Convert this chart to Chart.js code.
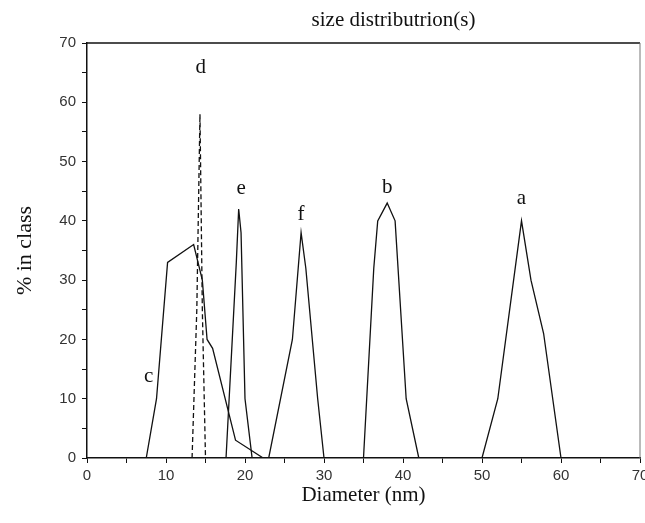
<!DOCTYPE html>
<html>
<head>
<meta charset="utf-8">
<script src="https://cdn.jsdelivr.net/npm/chart.js@4.4.1/dist/chart.umd.min.js"></script>
<style>
  html, body { margin: 0; padding: 0; background: #fff; }
  #wrap { width: 645px; height: 523px; }
</style>
</head>
<body>
<div id="wrap"><canvas id="myChart" width="645" height="523"></canvas></div>
<script>
// peak a
const aDiam = [50, 52, 55, 56.2, 57.8, 60];
const aPct  = [0, 10, 40, 30, 21, 0];
// peak b
const bDiam = [35, 36.3, 36.8, 38, 39, 40.4, 42];
const bPct  = [0, 32, 40, 43, 40, 10, 0];
// peak c
const cDiam = [7.5, 8.8, 10.2, 13.5, 14.6, 15.2, 15.9, 18.8, 22.3];
const cPct  = [0, 10, 33, 36, 30, 20, 18.5, 3, 0];
// peak d (dashed)
const dDiam = [13.3, 13.9, 14.3, 14.6, 15];
const dPct  = [0, 25, 58, 25, 0];
// peak e
const eDiam = [17.6, 18.9, 19.2, 19.5, 20, 20.9];
const ePct  = [0, 33, 42, 38, 10, 0];
// peak f
const fDiam = [23, 26, 27.1, 27.7, 29.2, 30];
const fPct  = [0, 20, 38, 32, 10, 0];

const peakNames  = ['a', 'b', 'c', 'd', 'e', 'f'];
const peakLabelX = [55, 38, 7.8, 14.4, 19.5, 27.1];
const peakLabelY = [43.7, 45.7, 13.8, 65.8, 45.5, 41.1];

const titleText = 'size distributrion(s)';

function toPoints(xs, ys) {
    return xs.map((v, i) => ({ x: v, y: ys[i] }));
}

function lineSet(label, xs, ys, dash) {
    return {
        label: label,
        data: toPoints(xs, ys),
        borderColor: '#111',
        borderWidth: 1.3,
        borderDash: dash || [],
        pointRadius: 0,
        fill: false,
        tension: 0
    };
}

// top/right frame, peak letters and title
const extras = {
    id: 'extras',
    afterDraw(chart) {
        const { ctx, chartArea: ca, scales: { x, y } } = chart;
        ctx.save();
        ctx.strokeStyle = '#111';
        ctx.lineWidth = 1.5;
        ctx.beginPath();
        ctx.moveTo(ca.left, ca.top);
        ctx.lineTo(ca.right, ca.top);
        ctx.stroke();
        ctx.strokeStyle = '#777';
        ctx.lineWidth = 1;
        ctx.beginPath();
        ctx.moveTo(ca.right, ca.top);
        ctx.lineTo(ca.right, ca.bottom);
        ctx.stroke();

        ctx.fillStyle = '#111';
        ctx.textAlign = 'center';
        ctx.textBaseline = 'middle';
        ctx.font = '21px "Liberation Serif"';
        peakNames.forEach((n, i) => {
            ctx.fillText(n, x.getPixelForValue(peakLabelX[i]), y.getPixelForValue(peakLabelY[i]));
        });

        ctx.font = '21px "Liberation Serif"';
        ctx.fillText(titleText, x.getPixelForValue(38.8), 20);
        ctx.restore();
    }
};

const tickFont = { family: 'Liberation Sans', size: 15 };

const config = {
    type: 'line',
    data: {
        datasets: [
            lineSet('a', aDiam, aPct),
            lineSet('b', bDiam, bPct),
            lineSet('c', cDiam, cPct),
            lineSet('d', dDiam, dPct, [5, 3]),
            lineSet('e', eDiam, ePct),
            lineSet('f', fDiam, fPct)
        ]
    },
    options: {
        responsive: false,
        animation: false,
        layout: { padding: { top: 43, right: 5, left: 0, bottom: 0 } },
        scales: {
            x: {
                type: 'linear',
                min: 0,
                max: 70,
                afterFit: s => {
                    s.height = 65;
                    s.paddingRight = 0;
                    s.paddingLeft = 0;
                },
                ticks: {
                    stepSize: 5,
                    autoSkip: false,
                    maxRotation: 0,
                    padding: 4,
                    color: '#333',
                    font: tickFont,
                    callback: v => (v % 10 === 0 ? v : '')
                },
                grid: {
                    drawOnChartArea: false,
                    drawTicks: true,
                    tickLength: 5,
                    tickColor: '#111'
                },
                border: { display: true, color: '#111', width: 1.5 },
                title: {
                    display: true,
                    text: 'Diameter (nm)',
                    color: '#111',
                    font: { family: 'Liberation Serif', size: 21 },
                    padding: { top: 0, bottom: 15 }
                }
            },
            y: {
                min: 0,
                max: 70,
                afterFit: s => { s.width = 87; },
                ticks: {
                    stepSize: 5,
                    autoSkip: false,
                    padding: 6,
                    color: '#333',
                    font: tickFont,
                    callback: v => (v % 10 === 0 ? v : '')
                },
                grid: {
                    drawOnChartArea: false,
                    drawTicks: true,
                    tickLength: 5,
                    tickColor: '#111'
                },
                border: { display: true, color: '#111', width: 1.5 },
                title: {
                    display: true,
                    text: '% in class',
                    color: '#111',
                    font: { family: 'Liberation Serif', size: 22 },
                    padding: { top: 12, bottom: 0 }
                }
            }
        },
        plugins: {
            legend: { display: false },
            tooltip: { enabled: false }
        }
    },
    plugins: [extras]
};

const myChart = new Chart(document.getElementById('myChart').getContext('2d'), config);
</script>
</body>
</html>
